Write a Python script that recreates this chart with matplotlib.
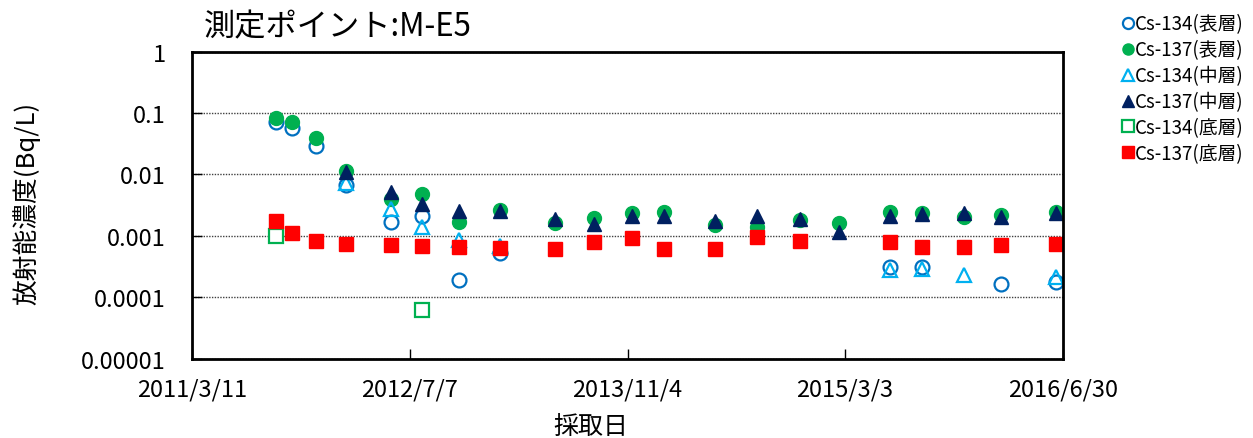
import numpy as np
import matplotlib
matplotlib.use('Agg')
import matplotlib.pyplot as plt

plt.rcParams['font.family'] = ['Noto Sans CJK JP', 'DejaVu Sans']

# sampling dates
dates = ['2011-09-13', '2011-10-20', '2011-12-13', '2012-02-16', '2012-05-26',
         '2012-08-04', '2012-10-26', '2013-01-24', '2013-05-26', '2013-08-21',
         '2013-11-13', '2014-01-24', '2014-05-18', '2014-08-19', '2014-11-23',
         '2015-02-17', '2015-06-10', '2015-08-21', '2015-11-23', '2016-02-14',
         '2016-06-14']
nan = np.nan

cs134_top = [0.0706, 0.0577, 0.0294, 0.0068, 0.00171, 0.00211, 0.00019, 0.00052, nan, nan,
             nan, nan, nan, nan, nan, nan, 0.00031, 0.00031, nan, 0.000166, 0.000181]
cs137_top = [0.083, 0.0706, 0.0397, 0.0113, 0.0040, 0.00477, 0.00171, 0.00268, 0.00163, 0.00194,
             0.00237, 0.00243, 0.00151, 0.00138, 0.00182, 0.00163, 0.00243, 0.00237, 0.00201, 0.00219, 0.00243]
cs134_mid = [nan, nan, nan, 0.0073, 0.00275, 0.00138, 0.00085, 0.0007, nan, nan,
             nan, nan, nan, nan, nan, nan, 0.00028, 0.00029, 0.000232, nan, 0.000213]
cs137_mid = [nan, nan, nan, 0.0109, 0.0051, 0.00331, 0.00258, 0.00258, 0.00189, 0.00157,
             0.00214, 0.00214, 0.00173, 0.00214, 0.00189, 0.00118, 0.00214, 0.00228, 0.00237, 0.00206, 0.00234]
cs134_bot = [0.00101, nan, nan, nan, nan, 0.000063, nan, nan, nan, nan,
             nan, nan, nan, nan, nan, nan, nan, nan, nan, nan, nan]
cs137_bot = [0.00173, 0.00111, 0.00083, 0.00073, 0.000714, 0.00068, 0.00067, 0.00063, 0.000615, 0.00079,
             0.00093, 0.000615, 0.000615, 0.00095, 0.00084, nan, 0.00079, 0.000655, 0.00067, 0.000714, 0.00073]

tick_dates = ['2011-03-11', '2012-07-07', '2013-11-04', '2015-03-03', '2016-06-30']
tick_labels = ['2011/3/11', '2012/7/7', '2013/11/4', '2015/3/3', '2016/6/30']
y_ticks = [1e-5, 1e-4, 1e-3, 1e-2, 1e-1, 1]
y_labels = ['0.00001', '0.0001', '0.001', '0.01', '0.1', '1']

x = np.array(dates, dtype='datetime64[D]')
xt = np.array(tick_dates, dtype='datetime64[D]')

fig = plt.figure(figsize=(12.53, 4.39), dpi=100)
ax = fig.add_axes([0.1532, 0.18, 0.6952, 0.7004])

ms = 10
ax.plot(x, cs134_top, 'o', ls='none', mfc='white', mec='#0070C0', mew=1.6, ms=ms, label='Cs-134(表層)')
ax.plot(x, cs137_top, 'o', ls='none', mfc='#00B050', mec='#00B050', ms=ms, label='Cs-137(表層)')
ax.plot(x, cs134_mid, '^', ls='none', mfc='none', mec='#00B0F0', mew=1.6, ms=ms, label='Cs-134(中層)')
ax.plot(x, cs137_mid, '^', ls='none', mfc='#002060', mec='#002060', ms=ms, label='Cs-137(中層)')
ax.plot(x, cs134_bot, 's', ls='none', mfc='white', mec='#00B050', mew=1.6, ms=ms, label='Cs-134(底層)')
ax.plot(x, cs137_bot, 's', ls='none', mfc='#FF0000', mec='#FF0000', ms=ms, label='Cs-137(底層)')

ax.set_yscale('log')
ax.set_ylim(1e-5, 1)
ax.set_yticks(y_ticks)
ax.set_yticklabels(y_labels)
ax.minorticks_off()
ax.set_xlim(xt[0], xt[-1])
ax.set_xticks(xt)
ax.set_xticklabels(tick_labels)

ax.tick_params(axis='both', direction='in', length=7, labelsize=17, width=1)
ax.tick_params(axis='x', pad=13)
ax.tick_params(axis='y', pad=19)
for s in ax.spines.values():
    s.set_linewidth(2)
ax.yaxis.grid(True, linestyle=(0, (1, 1)), color='#404040', linewidth=1)

fig.text(591 / 1253, 1 - 427 / 439, '採取日', fontsize=18, ha='center', va='center')
fig.text(26 / 1253, 1 - 203 / 439, '放射能濃度(Bq/L)', fontsize=18.5, ha='center', va='center',
         rotation=90)
fig.text(0.163, 1 - 27 / 439, '測定ポイント:M-E5', fontsize=22.5, ha='left', va='center')

leg = ax.legend(loc='upper left', bbox_to_anchor=(1.058, 1.148), frameon=False,
                fontsize=13.5, handletextpad=0.05, handlelength=0.7, labelspacing=0.26,
                markerscale=0.8, borderaxespad=0)

plt.savefig('out.png', dpi=100)
